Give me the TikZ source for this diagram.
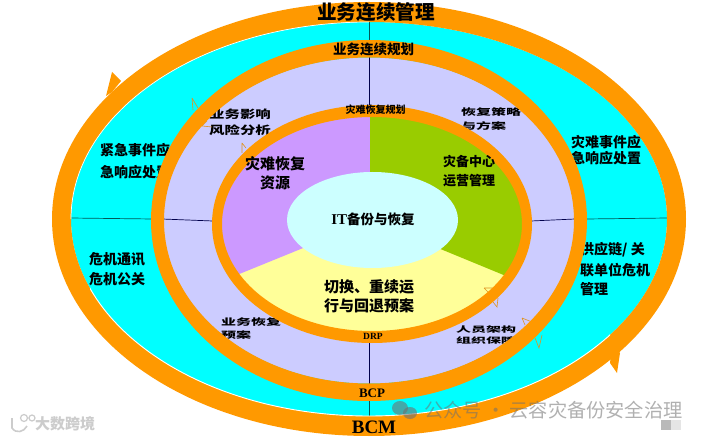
\documentclass[tikz,border=0pt]{standalone}
\usepackage{fontspec}
\setmainfont{Noto Sans CJK SC}
\newfontfamily\lat{Liberation Serif}
\usetikzlibrary{shapes.geometric}
\definecolor{ringor}{HTML}{FF9900}
\definecolor{cyanf}{HTML}{00FFFF}
\definecolor{lav}{HTML}{CCCCFF}
\definecolor{purp}{HTML}{CC99FF}
\definecolor{grn}{HTML}{99CC00}
\definecolor{yel}{HTML}{FFFF99}
\definecolor{pale}{HTML}{CCFFFF}
\definecolor{wm}{HTML}{707070}
\tikzset{
  x=1pt,y=-1pt,
  lbl/.style={font=\bfseries\fontsize{#1}{#1}\selectfont,inner sep=0pt,text=black,align=left},
  cen/.style={font=\bfseries\fontsize{#1}{#1}\selectfont,inner sep=0pt,text=black,align=center},
  divc/.style={draw=teal!70!black,line width=0.7pt},
  divl/.style={draw=black!70!blue,line width=0.7pt},
  smallarrow/.style={draw=ringor!75!gray,line width=0.6pt,fill=none,line join=miter},
}
\begin{document}
\begin{tikzpicture}
\useasboundingbox[fill=white] (0,0) rectangle (704,438);
% fills
\fill[cyanf] (369,219) ellipse [x radius=298,y radius=197];
\fill[lav] (369,220.5) ellipse [x radius=206,y radius=163];
% sectors
\begin{scope}
\clip (372,224) ellipse [x radius=152,y radius=108];
\fill[yel] (200,180) rectangle (540,340);
\fill[purp] (372,220) -- (372,100) -- (200,100) -- (200,290) -- cycle;
\fill[grn] (370,220) -- (370,100) -- (540,100) -- (540,290) -- cycle;
\end{scope}
% dividers
\coordinate (tA) at (369,20); \coordinate (tB) at (369,42);
\coordinate (tC) at (369,56); \coordinate (tD) at (369,106);
\coordinate (bA) at (369,342); \coordinate (bB) at (369,386);
\coordinate (bC) at (369,400); \coordinate (bD) at (369,417);
\coordinate (lA) at (70,218); \coordinate (lB) at (153,219);
\coordinate (lC) at (162,219); \coordinate (lD) at (213,221);
\coordinate (rA) at (668,218); \coordinate (rB) at (586,219);
\coordinate (rC) at (575,219); \coordinate (rD) at (531,221);
\draw[divc] (tA)--(tB); \draw[divl] (tC)--(tD);
\draw[divl] (bA)--(bB); \draw[divc] (bC)--(bD);
\draw[divc] (lA)--(lB); \draw[divl] (lC)--(lD);
\draw[divc] (rA)--(rB); \draw[divl] (rC)--(rD);
% cyan text
\node[lbl=14,anchor=north west] (n1) at (100,143) {紧急事件应\\[8pt]急响应处置};
\node[lbl=14,anchor=north west] (n2) at (571,135) {灾难事件应\\[2.5pt]急响应处置};
\node[lbl=14,anchor=north west] (n3) at (89,252) {危机通讯\\[6pt]危机公关};
\node[lbl=14,anchor=north west] (n4) at (580,242) {供应链/ 关\\[5pt]联单位危机\\[5pt]管理};
% lavender text
\node[inner sep=0pt,anchor=center] (n5) at (240,122) {\scalebox{1.1}[.8]{\bfseries\fontsize{14}{14}\selectfont\shortstack[l]{业务影响\\[3pt]风险分析}}};
\node[inner sep=0pt,anchor=center] (n6) at (491,119) {\scalebox{1.25}[.75]{\bfseries\fontsize{12}{12}\selectfont\shortstack[l]{恢复策略\\[3pt]与方案}}};
\node[inner sep=0pt,anchor=center] (n7) at (251,329) {\scalebox{1.25}[.75]{\bfseries\fontsize{12}{12}\selectfont\shortstack[l]{业务恢复\\[3pt]预案}}};
\node[inner sep=0pt,anchor=center] (n8) at (486,335) {\scalebox{1.25}[.65]{\bfseries\fontsize{12}{12}\selectfont\shortstack[l]{人员架构\\[3pt]组织保障}}};
% thin arrowheads under the rings
\draw[smallarrow] (192,98) -- (198,108) (192,98) -- (193,110);
\draw[smallarrow] (202,126) -- (212,127) (202,126) -- (207,121);
\draw[smallarrow] (242,143) -- (242,153) (242,143) -- (246,148);
\draw[smallarrow] (250,163) -- (255,162);
\draw[smallarrow] (484,288) -- (492,288) (484,288) -- (488,292);
\draw[smallarrow] (498,298) -- (497,307) -- (493,302);
\draw[smallarrow] (522,318) -- (532,322) (522,318) -- (525,325);
\draw[smallarrow] (542,335) -- (539,348) -- (535,338);
% rings
\fill[ringor,even odd rule] (369,219) ellipse [x radius=317,y radius=217] (369,219) ellipse [x radius=298,y radius=197];
\fill[ringor,even odd rule] (369,220.5) ellipse [x radius=218,y radius=180.5] (369,220.5) ellipse [x radius=205,y radius=163];
\fill[ringor,even odd rule] (372,224) ellipse [x radius=160,y radius=119] (372,224) ellipse [x radius=150,y radius=107];
\fill[ringor] (112,72) -- (121,81) -- (112,92) -- (106,96) -- cycle;
\fill[ringor] (610,363) -- (617,373) -- (620,353) -- (612,345) -- cycle;
% white edge along the outer ring
\begin{scope}
\clip (60,10) rectangle (369,219);
\draw[white,line width=0.7pt] (369,219) ellipse [x radius=298,y radius=197];
\end{scope}
\begin{scope}
\clip (90,280) rectangle (610,430);
\draw[white,line width=0.9pt] (369,219) ellipse [x radius=298,y radius=197];
\end{scope}
% centre
\node[ellipse,fill=pale,minimum width=171pt,minimum height=96pt,inner sep=0pt] (core) at (372.5,220) {};
\node[cen=13.5] (coret) at (373,219) {{\lat\fontsize{15}{15}\selectfont IT}备份与恢复};
\node[lbl=15] (s1) at (275,175) {\begin{tabular}{@{}c@{}}灾难恢复\\[2pt]资源\end{tabular}};
\node[lbl=13] (s2) at (469,172) {\begin{tabular}{@{}c@{}}灾备中心\\[4pt]运营管理\end{tabular}};
\node[lbl=15,anchor=center] (s3) at (369,298) {\begin{tabular}{@{}l@{}}切换、重续运\\[1pt]行与回退预案\end{tabular}};
% ring titles
\node[cen=19.6] (t1) at (376,12) {业务连续管理};
\node[cen=13.5] (t2) at (373.5,49) {业务连续规划};
\node[cen=10] (t3) at (375.5,110) {灾难恢复规划};
\node[font=\lat\bfseries\fontsize{9.5}{9.5}\selectfont,inner sep=0pt] (t4) at (373,336) {DRP};
\node[font=\lat\bfseries\fontsize{13}{13}\selectfont,inner sep=0pt] (t5) at (372,393) {BCP};
\node[font=\lat\bfseries\fontsize{19}{19}\selectfont,inner sep=0pt] (t6) at (374,427) {BCM};
% watermarks
\node[inner sep=0pt,anchor=west,text=wm,text opacity=.55,font=\fontsize{19.2}{19.2}\selectfont] (w1) at (424,410) {公众号 · 云容灾备份安全治理};
\node[inner sep=0pt,anchor=west,text=white!80!black,font=\bfseries\fontsize{15}{15}\selectfont] (w2) at (35,424) {大数跨境};
\fill[wm,fill opacity=.6] (400,408) ellipse [x radius=8,y radius=7];
\fill[wm,fill opacity=.6] (410,413) ellipse [x radius=7,y radius=6];
\fill[gray!55] (661,420) rectangle (671,430);
\fill[gray!20] (671,420) rectangle (681,430);
\draw[white!80!black,line width=1.6pt] (12,418) -- (12,428) .. controls (16,434) and (24,432) .. (27,426);
\draw[white!80!black,line width=1.2pt] (24,418) circle (3.5) (32,418) circle (3);
\end{tikzpicture}
\end{document}
